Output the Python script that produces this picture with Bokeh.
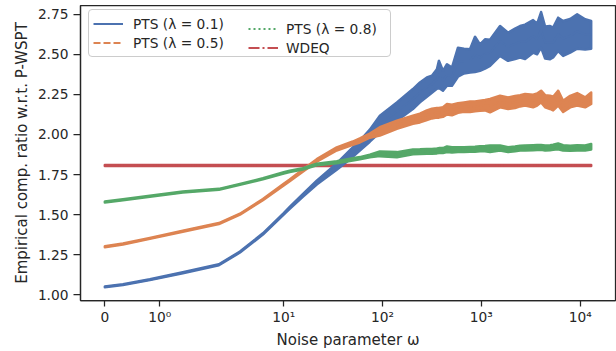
import math
from bokeh.plotting import figure
from bokeh.models import (Range1d, FixedTicker, CustomJSTickFormatter, Legend, LegendItem,
                          NumeralTickFormatter)
from bokeh.embed import file_html
from bokeh.resources import INLINE

# ---------------- data ----------------
omega = [0, 0.33, 0.82, 1.42, 2.21, 3.61, 6.16, 10.0, 11.5, 15.6,
         21.6, 34.4, 50.0, 58.9, 74.4, 94.0, 139.7, 203, 239, 281,
         316, 355, 372, 409, 449, 504, 580, 668, 768, 863,
         969, 1089, 1224, 1546, 1863, 2194, 2465, 2771, 3339, 3665,
         4024, 4418, 4965, 5325, 5983, 6724, 7917, 9322, 11234, 12925]

pts01_lo = [1.047, 1.061, 1.092, 1.135, 1.185, 1.264, 1.376, 1.500, 1.536, 1.612,
            1.688, 1.78, 1.86, 1.90, 1.955, 2.014, 2.086, 2.159, 2.20, 2.235,
            2.26, 2.285, 2.29, 2.273, 2.304, 2.304, 2.36, 2.38, 2.386, 2.39,
            2.397, 2.41, 2.428, 2.490, 2.459, 2.47, 2.479, 2.47, 2.510, 2.50,
            2.541, 2.473, 2.469, 2.48, 2.52, 2.49, 2.51, 2.535, 2.53, 2.535]
pts01_hi = [1.053, 1.067, 1.098, 1.141, 1.191, 1.270, 1.384, 1.510, 1.548, 1.628,
            1.712, 1.82, 1.92, 1.96, 2.03, 2.117, 2.200, 2.283, 2.324, 2.355,
            2.366, 2.407, 2.459, 2.397, 2.438, 2.417, 2.541, 2.535, 2.531, 2.609,
            2.562, 2.593, 2.59, 2.676, 2.634, 2.66, 2.676, 2.685, 2.713, 2.69,
            2.763, 2.673, 2.676, 2.666, 2.728, 2.707, 2.72, 2.749, 2.718, 2.707]

pts05_lo = [1.297, 1.314, 1.349, 1.394, 1.442, 1.500, 1.590, 1.682, 1.709, 1.767,
            1.830, 1.900, 1.936, 1.950, 1.980, 1.993, 2.035, 2.066, 2.075, 2.09,
            2.10, 2.105, 2.105, 2.11, 2.125, 2.12, 2.135, 2.142, 2.14, 2.145,
            2.148, 2.15, 2.138, 2.169, 2.159, 2.165, 2.175, 2.180, 2.169, 2.18,
            2.200, 2.17, 2.159, 2.15, 2.180, 2.14, 2.169, 2.180, 2.169, 2.19]
pts05_hi = [1.303, 1.320, 1.355, 1.400, 1.448, 1.506, 1.598, 1.692, 1.719, 1.782,
            1.846, 1.920, 1.956, 1.975, 2.005, 2.045, 2.086, 2.117, 2.13, 2.15,
            2.16, 2.165, 2.165, 2.17, 2.19, 2.185, 2.195, 2.20, 2.205, 2.205,
            2.210, 2.215, 2.221, 2.241, 2.231, 2.24, 2.245, 2.252, 2.248, 2.255,
            2.273, 2.245, 2.241, 2.235, 2.273, 2.21, 2.241, 2.258, 2.231, 2.262]

pts08_lo = [1.576, 1.590, 1.612, 1.638, 1.655, 1.686, 1.721, 1.756, 1.766, 1.782,
            1.808, 1.820, 1.838, 1.845, 1.858, 1.865, 1.858, 1.876, 1.878, 1.88,
            1.88, 1.882, 1.885, 1.885, 1.89, 1.888, 1.89, 1.89, 1.892, 1.893,
            1.895, 1.895, 1.89, 1.90, 1.89, 1.895, 1.90, 1.90, 1.902, 1.903,
            1.904, 1.90, 1.902, 1.904, 1.908, 1.90, 1.898, 1.90, 1.90, 1.906]
pts08_hi = [1.582, 1.596, 1.618, 1.644, 1.661, 1.692, 1.727, 1.764, 1.774, 1.790,
            1.818, 1.833, 1.852, 1.859, 1.874, 1.894, 1.89, 1.907, 1.908, 1.91,
            1.91, 1.912, 1.915, 1.915, 1.925, 1.92, 1.92, 1.92, 1.922, 1.924,
            1.927, 1.928, 1.931, 1.931, 1.92, 1.925, 1.93, 1.931, 1.933, 1.934,
            1.935, 1.932, 1.933, 1.936, 1.944, 1.933, 1.93, 1.933, 1.932, 1.941]

wdeq_value = 1.807
wdeq_halfwidth = 0.003

x_tick_values = [0, 1, 10, 100, 1000, 10000]
x_tick_labels = ["0", "10\u2070", "10\u00b9", "10\u00b2", "10\u00b3", "10\u2074"]
y_ticks = [1.00, 1.25, 1.50, 1.75, 2.00, 2.25, 2.50, 2.75]

series_labels = ["PTS (\u03bb = 0.1)", "PTS (\u03bb = 0.5)", "PTS (\u03bb = 0.8)", "WDEQ"]
colors = ["#4C72B0", "#DD8452", "#55A868", "#C44E52"]
dashes = ["solid", "7 3", "2 3", "11 3 2 3"]

x_label = "Noise parameter \u03c9"
y_label = "Empirical comp. ratio w.r.t. P-WSPT"

# ------------- symlog transform (matplotlib style, linthresh=2) -------------
LINTHRESH = 2.0
LINSCALE_ADJ = 1.0 / (1.0 - 1.0 / 10.0)


def symlog(w):
    if abs(w) <= LINTHRESH:
        return w * LINSCALE_ADJ
    return math.copysign(LINTHRESH * (LINSCALE_ADJ + math.log10(abs(w) / LINTHRESH)), w)


xs = [symlog(w) for w in omega]
span = xs[-1] - xs[0]
x_range = Range1d(xs[0] - 0.05 * span, xs[-1] + 0.05 * span)

TXT = "#262626"
FONT = "DejaVu Sans"

W, H = 616, 351
BL, BR, BT, BB = 80, 1, 5, 51
FH = H - BT - BB

p = figure(width=W, height=H, output_backend="svg", toolbar_location=None,
           x_range=x_range, y_range=Range1d(0.965, 2.804),
           min_border_left=BL, min_border_right=BR, min_border_top=BT, min_border_bottom=BB,
           background_fill_color="white", border_fill_color="white")
p.xgrid.visible = False
p.ygrid.visible = False
p.outline_line_color = TXT
p.outline_line_width = 1.25
p.outline_line_alpha = 1.0

wdeq_lo = [wdeq_value - wdeq_halfwidth for _ in omega]
wdeq_hi = [wdeq_value + wdeq_halfwidth for _ in omega]

bands = {
    0: (pts01_lo, pts01_hi),
    1: (pts05_lo, pts05_hi),
    2: (pts08_lo, pts08_hi),
    3: (wdeq_lo, wdeq_hi),
}

line_renderers = {}
for i in [3, 0, 1, 2]:
    lo, hi = bands[i]
    c = colors[i]
    p.patch(xs + xs[::-1], list(lo) + list(hi)[::-1], fill_color=c, line_color=c,
            line_width=2.5, line_join="round")
    mid = [(a + b) / 2 for a, b in zip(lo, hi)]
    line_renderers[i] = p.line(xs, mid, line_color=c, line_width=2, line_dash=dashes[i])


def style_legend(lg):
    lg.label_text_font = FONT
    lg.label_text_font_size = "13.75px"
    lg.label_text_color = TXT
    lg.glyph_width = 30
    lg.glyph_height = 19
    lg.label_height = 19
    lg.spacing = 0
    lg.padding = 4


LEG_H = 4 * 2 + 19 * 2
leg_y = FH - 6 - LEG_H

legend_a = Legend(items=[LegendItem(label=series_labels[i], renderers=[line_renderers[i]]) for i in (0, 1)],
                  location=(8, leg_y))
style_legend(legend_a)
legend_a.label_standoff = 10
legend_a.label_width = 253
legend_a.border_line_color = "#cccccc"
legend_a.border_line_width = 1
legend_a.border_line_alpha = 1.0
legend_a.background_fill_color = "white"
legend_a.background_fill_alpha = 0.8
try:
    legend_a.border_radius = 4
except Exception:
    pass
p.add_layout(legend_a)

legend_b = Legend(items=[LegendItem(label=series_labels[i], renderers=[line_renderers[i]]) for i in (2, 3)],
                  location=(168, leg_y))
style_legend(legend_b)
legend_b.label_standoff = 8
legend_b.border_line_color = None
legend_b.background_fill_alpha = 0.0
p.add_layout(legend_b)

for ax in (p.xaxis[0], p.yaxis[0]):
    ax.axis_line_color = TXT
    ax.axis_line_width = 1.25
    ax.major_tick_line_color = TXT
    ax.major_tick_line_width = 1.25
    ax.major_tick_in = 0
    ax.minor_tick_out = 0
    ax.minor_tick_in = 0
    ax.minor_tick_line_color = None
    ax.major_label_text_font = FONT
    ax.major_label_text_font_size = "13.75px"
    ax.major_label_text_color = TXT
    ax.axis_label_text_font = FONT
    ax.axis_label_text_font_size = "15px"
    ax.axis_label_text_font_style = "normal"
    ax.axis_label_text_color = TXT

p.yaxis[0].ticker = FixedTicker(ticks=y_ticks, minor_ticks=[])
p.yaxis[0].formatter = NumeralTickFormatter(format="0.00")
p.yaxis[0].major_tick_out = 7
p.yaxis[0].major_label_standoff = 5
p.yaxis[0].axis_label = y_label
p.yaxis[0].axis_label_standoff = 4

tick_pos = [symlog(v) for v in x_tick_values]
p.xaxis[0].ticker = FixedTicker(ticks=tick_pos, minor_ticks=[])
p.xaxis[0].formatter = CustomJSTickFormatter(args=dict(pos=tick_pos, labels=x_tick_labels), code="""
    let best = 0;
    for (let i = 1; i < pos.length; i++) {
        if (Math.abs(pos[i] - tick) < Math.abs(pos[best] - tick)) { best = i; }
    }
    return labels[best];
""")
p.xaxis[0].major_tick_out = 6
p.xaxis[0].major_label_standoff = 2
p.xaxis[0].axis_label = x_label
p.xaxis[0].axis_label_standoff = 3

open("out.html", "w").write(file_html(p, INLINE))
